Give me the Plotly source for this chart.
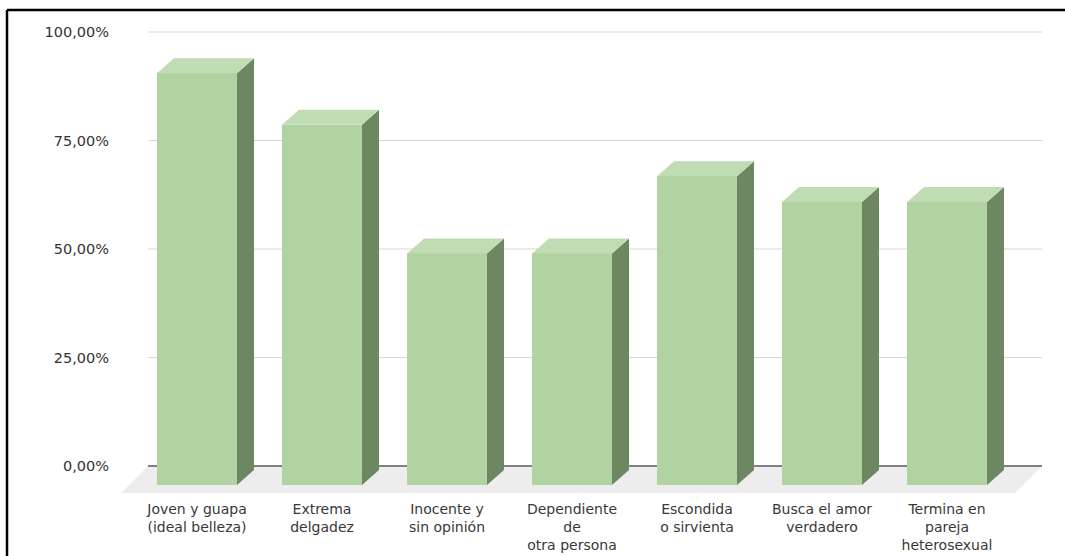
import plotly.graph_objects as go

# ---- data ----
categories = [
    "Joven y guapa<br>(ideal belleza)",
    "Extrema<br>delgadez",
    "Inocente y<br>sin opinión",
    "Dependiente<br>de<br>otra persona",
    "Escondida<br>o sirvienta",
    "Busca el amor<br>verdadero",
    "Termina en<br>pareja<br>heterosexual",
]
values = [94.12, 82.35, 52.94, 52.94, 70.59, 64.71, 64.71]
y_ticks = [0, 25, 50, 75, 100]
y_tick_labels = ["0,00%", "25,00%", "50,00%", "75,00%", "100,00%"]

# ---- geometry / style ----
W, H = 1065, 556
ML, MR, MT, MB = 110, 23, 30, 60
plot_w = W - ML - MR
plot_h = H - MT - MB
x_px_per_unit = 125.0
x0_px = 197.0                      # pixel of first category centre
x_range = [(ML - x0_px) / x_px_per_unit, (W - MR - x0_px) / x_px_per_unit]

# back wall axis
wall_zero_px = 466.0
wall_scale = 4.34
y_range = [-(MT + plot_h - wall_zero_px) / wall_scale, (wall_zero_px - MT) / wall_scale]
# front plane axis
front_zero_px = 485.0
front_scale = 4.375
y2_range = [-(MT + plot_h - front_zero_px) / front_scale, (front_zero_px - MT) / front_scale]

bar_w = 0.64
dx = 17 / x_px_per_unit
dy = 15 / front_scale
wall_left = (148 - x0_px) / x_px_per_unit
wall_right = x_range[1]
floor_dx = 27 / x_px_per_unit
floor_dy = 27 / wall_scale

FRONT = "#b0d3a1"
SIDE = "#6d8762"
TOP = "#bfdcb2"

idx = list(range(len(values)))
fig = go.Figure()

# floor
fig.add_trace(go.Scatter(
    x=[wall_left, wall_right, wall_right - floor_dx, wall_left - floor_dx, wall_left],
    y=[0, 0, -floor_dy, -floor_dy, 0],
    fill="toself", fillcolor="#ededed", line=dict(width=0), mode="lines",
    hoverinfo="skip", showlegend=False))

# gridlines on back wall
gx, gy = [], []
for t in y_ticks[1:]:
    gx += [wall_left, wall_right, None]
    gy += [t, t, None]
fig.add_trace(go.Scatter(x=gx, y=gy, mode="lines",
                         line=dict(color="#dcd6d2", width=1.2),
                         hoverinfo="skip", showlegend=False))
fig.add_trace(go.Scatter(x=[wall_left, wall_right], y=[0, 0], mode="lines",
                         line=dict(color="#5a5a5a", width=1.3),
                         hoverinfo="skip", showlegend=False))

# front faces
fig.add_trace(go.Bar(x=idx, y=values, yaxis="y2", width=bar_w,
                     marker=dict(color=FRONT, line=dict(width=0)),
                     showlegend=False))

# side faces
sx, sy = [], []
for i, v in zip(idx, values):
    r = i + bar_w / 2
    sx += [r, r + dx, r + dx, r, r, None]
    sy += [0, dy, v + dy, v, 0, None]
fig.add_trace(go.Scatter(x=sx, y=sy, yaxis="y2", fill="toself", fillcolor=SIDE,
                         mode="lines", line=dict(width=0), hoverinfo="skip",
                         showlegend=False))
# top faces
tx, ty = [], []
for i, v in zip(idx, values):
    l, r = i - bar_w / 2, i + bar_w / 2
    tx += [l, r, r + dx, l + dx, l, None]
    ty += [v, v, v + dy, v + dy, v, None]
fig.add_trace(go.Scatter(x=tx, y=ty, yaxis="y2", fill="toself", fillcolor=TOP,
                         mode="lines", line=dict(width=0), hoverinfo="skip",
                         showlegend=False))

# frame
def px_to_paper_x(px):
    return (px - ML) / plot_w

def px_to_paper_y(py):
    return (MT + plot_h - py) / plot_h

fig.add_shape(type="line", xref="paper", yref="paper",
              x0=px_to_paper_x(7), x1=px_to_paper_x(W + 5),
              y0=px_to_paper_y(10), y1=px_to_paper_y(10),
              line=dict(color="black", width=2.5))
fig.add_shape(type="line", xref="paper", yref="paper",
              x0=px_to_paper_x(7), x1=px_to_paper_x(7),
              y0=px_to_paper_y(10), y1=px_to_paper_y(H + 5),
              line=dict(color="black", width=2.5))

fig.update_layout(
    width=W, height=H,
    margin=dict(l=ML, r=MR, t=MT, b=MB, autoexpand=False),
    paper_bgcolor="white", plot_bgcolor="rgba(0,0,0,0)",
    font=dict(family="DejaVu Sans", size=14, color="#3a3a3a"),
    bargap=0,
    xaxis=dict(range=x_range, tickvals=idx, ticktext=categories, automargin=False,
               showgrid=False, zeroline=False, showline=False, ticks="",
               ticklabelstandoff=3,
               tickfont=dict(size=14, color="#383838")),
    yaxis=dict(range=y_range, tickvals=y_ticks, ticktext=y_tick_labels, automargin=False,
               showgrid=False, zeroline=False, showline=False, ticks="",
               tickfont=dict(size=14.5, color="#333333")),
    yaxis2=dict(range=y2_range, overlaying="y", visible=False),
)

fig.write_html("out.html")
